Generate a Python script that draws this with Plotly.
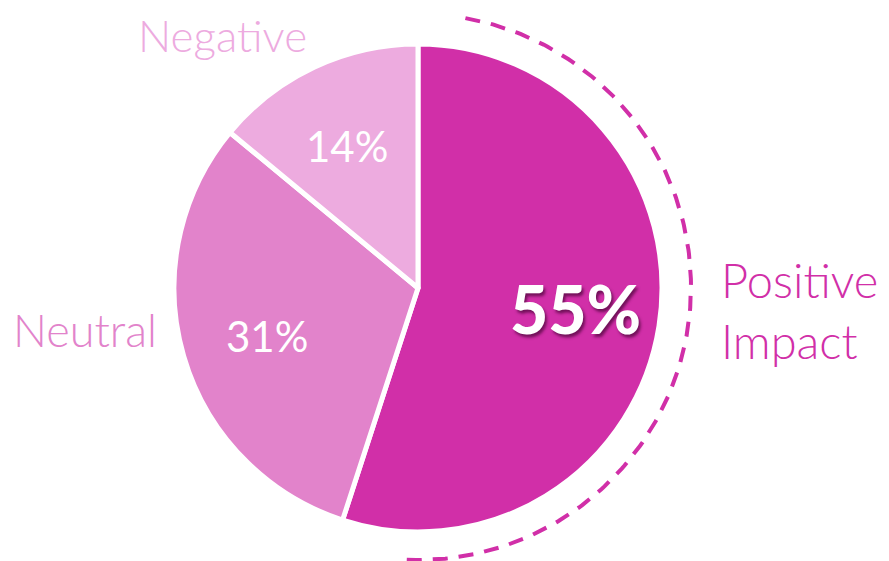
import numpy as np
import plotly.graph_objects as go

labels = ["Positive Impact", "Neutral", "Negative"]
shares = [55, 31, 14]
colors = ["#D12FA8", "#E283CB", "#EDABDF"]
label_text = ["Positive<br>Impact", "Neutral", "Negative"]

W, H = 889, 561
# page body adds ~8px offset, so positions are in figure pixels
cx, cy, r = 410, 280, 244

fig = go.Figure()

fig.add_trace(go.Pie(
    labels=labels,
    values=shares,
    sort=False,
    direction="clockwise",
    rotation=0,
    marker=dict(colors=colors, line=dict(color="white", width=5)),
    textinfo="none",
    showlegend=False,
    hoverinfo="label+percent",
    domain=dict(x=[(cx - r) / W, (cx + r) / W], y=[(H - cy - r) / H, (H - cy + r) / H]),
))

# dashed arc around the positive slice
ar = 273
t = np.radians(np.linspace(10, 183, 200))
fig.add_trace(go.Scatter(
    x=cx + ar * np.sin(t),
    y=(H - cy + 1) + ar * np.cos(t),
    mode="lines",
    line=dict(color="#D12FA8", width=4, dash="15px,11px"),
    hoverinfo="skip",
    showlegend=False,
    cliponaxis=False,
))

fig.update_xaxes(range=[0, W], visible=False, fixedrange=True)
fig.update_yaxes(range=[0, H], visible=False, fixedrange=True)

# percentage labels at the middle of each slice
cum = np.cumsum([0] + shares)
total = sum(shares)
for i, v in enumerate(shares):
    mid = np.radians((cum[i] + v / 2) / total * 360 - 1.5)
    big = i == 0
    fig.add_annotation(
        x=cx + 0.65 * r * np.sin(mid), y=(H - cy) + 0.65 * r * np.cos(mid),
        text=f"{v}%", showarrow=False,
        font=dict(family="Lato", size=66 if big else 42, color="white",
                  weight=900 if big else 400,
                  shadow="2px 3px 3px rgba(90,10,70,0.8)" if big else "none"),
    )

fig.add_annotation(x=711, y=H - 302, text=label_text[0], showarrow=False,
                   xanchor="left", align="left",
                   font=dict(family="Lato", size=47, color=colors[0], weight=300))
fig.add_annotation(x=151, y=H - 322, text=label_text[1], showarrow=False,
                   xanchor="right",
                   font=dict(family="Lato", size=45, color=colors[1], weight=300))
fig.add_annotation(x=214, y=H, yanchor="top", text=label_text[2],
                   showarrow=False, xanchor="center", borderpad=0,
                   font=dict(family="Lato", size=44, color=colors[2], weight=300))

fig.update_layout(
    width=W, height=H,
    margin=dict(t=0, l=0, r=0, b=0),
    paper_bgcolor="white",
    plot_bgcolor="rgba(0,0,0,0)",
)

fig.write_html("out.html")
